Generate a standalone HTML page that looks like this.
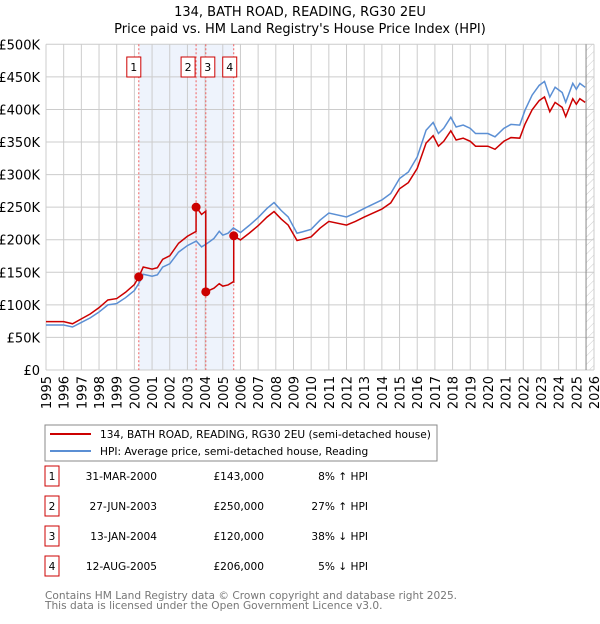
<!DOCTYPE html>
<html><head><meta charset="utf-8"><style>
body{margin:0;background:#fff;font-family:"DejaVu Sans","Liberation Sans",sans-serif;}
svg text{font-family:"DejaVu Sans","Liberation Sans",sans-serif;}
</style></head><body>
<svg id="chart" width="600" height="620" xmlns="http://www.w3.org/2000/svg">
<defs><pattern id="hatch" width="6" height="6" patternUnits="userSpaceOnUse" patternTransform="rotate(45)"><line x1="0" y1="0" x2="0" y2="6" stroke="#ccc" stroke-width="1"/></pattern></defs>
<text x="300" y="16" text-anchor="middle" font-size="13">134, BATH ROAD, READING, RG30 2EU</text>
<text x="300" y="33" text-anchor="middle" font-size="13">Price paid vs. HM Land Registry's House Price Index (HPI)</text>
<g id="plot"></g>
<rect x="45" y="425" width="392" height="36" fill="#fff" stroke="#888"/>
<line x1="50" y1="434" x2="91" y2="434" stroke="#cc0000" stroke-width="2"/>
<text x="100" y="438" font-size="10.6">134, BATH ROAD, READING, RG30 2EU (semi-detached house)</text>
<line x1="50" y1="451" x2="91" y2="451" stroke="#5b8fd4" stroke-width="2"/>
<text x="100" y="455" font-size="10.6">HPI: Average price, semi-detached house, Reading</text>
<g id="table" font-size="10.6"></g>
<text x="45" y="599" font-size="10.6" fill="#777">Contains HM Land Registry data © Crown copyright and database right 2025.</text>
<text x="45" y="609" font-size="10.6" fill="#777">This data is licensed under the Open Government Licence v3.0.</text>
</svg>
<script>
const hpiYears=[1995,1996,1996.5,1997,1997.5,1998,1998.5,1999,1999.5,2000,2000.25,2000.5,2001,2001.3,2001.6,2002,2002.5,2003,2003.5,2003.8,2004.1,2004.5,2004.8,2005,2005.3,2005.6,2006,2006.5,2007,2007.5,2007.9,2008.3,2008.7,2009.2,2009.5,2010,2010.5,2011,2012,2012.5,2013,2014,2014.5,2015,2015.5,2016,2016.5,2016.9,2017.2,2017.5,2017.9,2018.2,2018.6,2019,2019.3,2020,2020.4,2020.9,2021.3,2021.8,2022.1,2022.5,2022.9,2023.2,2023.5,2023.8,2024.2,2024.4,2024.8,2025.0,2025.2,2025.5];
const hpiValues=[69,69,66,73,80,89,100,102,111,122,133,147,144,146,158,163,181,191,198,189,194,202,213,207,210,218,211,222,234,248,257,245,235,210,212,216,230,241,235,241,248,261,271,294,304,327,368,380,363,371,388,373,376,371,363,363,358,371,377,376,399,422,437,443,419,434,426,411,440,431,440,434];
const saleLabels=["1","2","3","4"];
const saleDates=[2000.25,2003.49,2004.04,2005.62];
const salePrices=[143000,250000,120000,206000];
const saleDateText=["31-MAR-2000","27-JUN-2003","13-JAN-2004","12-AUG-2005"];
const salePriceText=["£143,000","£250,000","£120,000","£206,000"];
const saleHpiText=["8% ↑ HPI","27% ↑ HPI","38% ↓ HPI","5% ↓ HPI"];
const yTicks=[0,50,100,150,200,250,300,350,400,450,500];
const yTickLabels=["£0","£50K","£100K","£150K","£200K","£250K","£300K","£350K","£400K","£450K","£500K"];
const xTicks=[1995,1996,1997,1998,1999,2000,2001,2002,2003,2004,2005,2006,2007,2008,2009,2010,2011,2012,2013,2014,2015,2016,2017,2018,2019,2020,2021,2022,2023,2024,2025,2026];

const NS="http://www.w3.org/2000/svg";
const X0=46,X1=594,Y0=370,Y1=44.3;
const xs=t=>X0+(t-1995)/(2026-1995)*(X1-X0);
const ys=v=>Y0-v/500*(Y0-Y1);
const plot=document.getElementById('plot');
function mk(tag,attrs,parent){const e=document.createElementNS(NS,tag);for(const k in attrs)e.setAttribute(k,attrs[k]);(parent||plot).appendChild(e);return e;}
function hpiAt(t){for(let i=0;i<hpiYears.length-1;i++){if(t>=hpiYears[i]&&t<=hpiYears[i+1]){const f=(t-hpiYears[i])/(hpiYears[i+1]-hpiYears[i]);return hpiValues[i]+f*(hpiValues[i+1]-hpiValues[i]);}}return hpiValues[hpiValues.length-1];}

let e=mk('rect',{x:xs(saleDates[0]),y:Y1,width:xs(saleDates[3])-xs(saleDates[0]),height:Y0-Y1,fill:'#eef3fc'});


e=mk('rect',{x:xs(2025.55),y:Y1,width:X1-xs(2025.55),height:Y0-Y1,fill:'url(#hatch)'});


yTicks.forEach((v,i)=>{
  const g=mk('line',{x1:X0,x2:X1,y1:ys(v),y2:ys(v),stroke:'#ccc','stroke-width':1});
  
  
  const t=mk('text',{x:40,y:ys(v)+5,'text-anchor':'end','font-size':13});
  t.textContent=yTickLabels[i];
  
  
});
xTicks.forEach(yr=>{
  const g=mk('line',{x1:xs(yr),x2:xs(yr),y1:Y1,y2:Y0,stroke:'#ccc','stroke-width':1});
  
  
  const t=mk('text',{x:0,y:0,'text-anchor':'end','font-size':13,transform:`translate(${xs(yr)+5},376) rotate(-90)`});
  t.textContent=yr;
  
  
});
e=mk('line',{x1:xs(2025.55),x2:xs(2025.55),y1:Y1,y2:Y0,stroke:'#888','stroke-width':1});


saleDates.forEach((d,i)=>{
  const l=mk('line',{x1:xs(d),x2:xs(d),y1:Y1,y2:Y0,stroke:'#f06060','stroke-width':1,'stroke-dasharray':'2,2'});
  
  
});
let pts=hpiYears.map((t,i)=>xs(t)+','+ys(hpiValues[i])).join(' ');
e=mk('polyline',{points:pts,fill:'none',stroke:'#5b8fd4','stroke-width':1.5});


function redAt(t){let k=0;for(let i=0;i<saleDates.length;i++)if(t>=saleDates[i])k=i;return salePrices[k]/1000*hpiAt(t)/hpiAt(saleDates[k]);}
let times=hpiYears.slice();
saleDates.forEach(d=>{times.push(d-0.001);times.push(d);});
times.sort((a,b)=>a-b);
pts=times.map(t=>xs(t)+','+ys(redAt(t))).join(' ');
e=mk('polyline',{points:pts,fill:'none',stroke:'#cc0000','stroke-width':1.5});


const boxOff=[-5,-8,2,-4];
saleDates.forEach((d,i)=>{
  const c=mk('circle',{cx:xs(d),cy:ys(salePrices[i]/1000),r:4.5,fill:'#cc0000'});
  
  
  const bx=xs(d)+boxOff[i];
  const r=mk('rect',{x:bx-7,y:57,width:14,height:20,fill:'#fff',stroke:'#cc0000'});
  
  
  const t=mk('text',{x:bx,y:71,'text-anchor':'middle','font-size':11});
  t.textContent=saleLabels[i];
  
  
});
const tbl=document.getElementById('table');
saleDates.forEach((d,i)=>{
  const y=483+i*30;
  const r=mk('rect',{x:45,y:y-17,width:14,height:20,fill:'#fff',stroke:'#cc0000'},tbl);
  
  
  const cells=[[52,'middle',saleLabels[i],'table-row-number'],[157,'end',saleDateText[i],'table-date'],[264,'end',salePriceText[i],'table-price'],[368,'end',saleHpiText[i],'table-hpi-diff']];
  cells.forEach(c=>{
    const t=mk('text',{x:c[0],y:y-3,'text-anchor':c[1]},tbl);
    t.textContent=c[2];
    
    
  });
});
</script>
</body></html>
